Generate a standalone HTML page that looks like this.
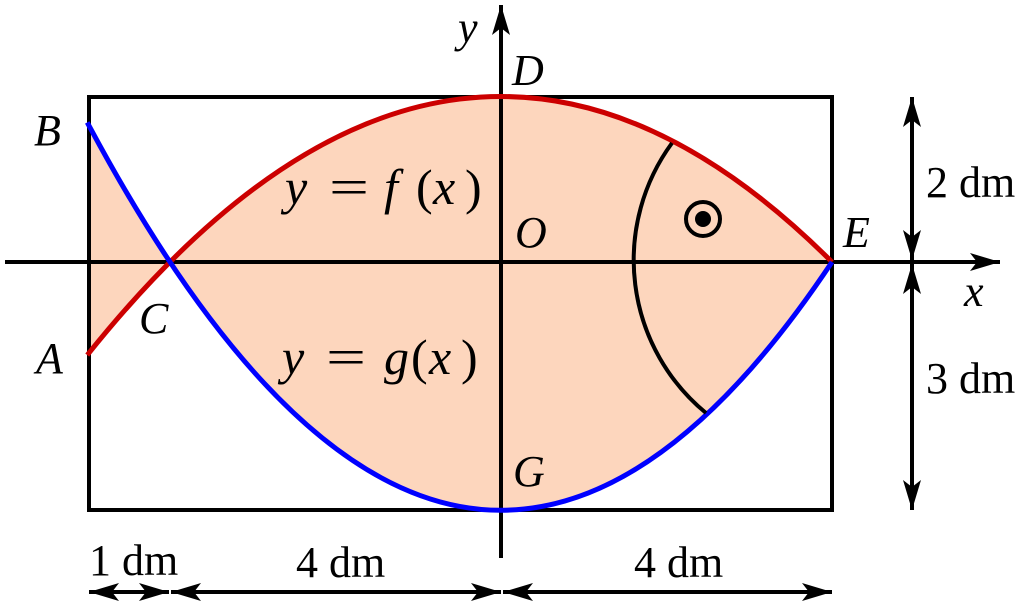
<!DOCTYPE html>
<html><head><style>
html,body{margin:0;padding:0;background:#fff;}
svg{display:block;}
text{font-family:"Liberation Serif",serif;font-size:44px;fill:#000;}
.i{font-style:italic;}
.e{font-size:50px;}
</style></head><body>
<svg width="1024" height="612" viewBox="0 0 1024 612" xmlns="http://www.w3.org/2000/svg">
<defs>
<marker id="ah" markerWidth="30" markerHeight="18" refX="30" refY="9" orient="auto-start-reverse" markerUnits="userSpaceOnUse">
<path d="M0,0 L30,9 L0,18 L7,9 Z" fill="#000"/>
</marker>
</defs>
<path d="M87.25,355.1 Q459.6,-110.4 832,262 Q459.6,820.6 87.25,122.4 Z" fill="#fdd6bd"/>
<rect x="89" y="97" width="743" height="413" fill="none" stroke="#000" stroke-width="4"/>
<line x1="5" y1="262" x2="1000" y2="262" stroke="#000" stroke-width="4" marker-end="url(#ah)"/>
<line x1="501" y1="558" x2="501" y2="5" stroke="#000" stroke-width="4" marker-end="url(#ah)"/>
<path d="M87.25,355.1 Q459.6,-110.4 832,262" fill="none" stroke="#cc0000" stroke-width="5"/>
<path d="M87.25,122.4 Q459.6,820.6 832,262" fill="none" stroke="#0000ff" stroke-width="5"/>
<path d="M672,143 A198,198 0 0 0 706,413" fill="none" stroke="#000" stroke-width="4"/>
<circle cx="703" cy="219" r="17" fill="none" stroke="#000" stroke-width="4"/>
<circle cx="703" cy="219" r="8" fill="#000"/>
<line x1="89" y1="592" x2="169" y2="592" stroke="#000" stroke-width="4" marker-start="url(#ah)" marker-end="url(#ah)"/>
<line x1="171" y1="592" x2="501" y2="592" stroke="#000" stroke-width="4" marker-start="url(#ah)" marker-end="url(#ah)"/>
<line x1="503" y1="592" x2="832" y2="592" stroke="#000" stroke-width="4" marker-start="url(#ah)" marker-end="url(#ah)"/>
<line x1="912" y1="97" x2="912" y2="260" stroke="#000" stroke-width="4" marker-start="url(#ah)" marker-end="url(#ah)"/>
<line x1="912" y1="264" x2="912" y2="510" stroke="#000" stroke-width="4" marker-start="url(#ah)" marker-end="url(#ah)"/>
<text x="89" y="575">1 dm</text>
<text x="296" y="577">4 dm</text>
<text x="634" y="577">4 dm</text>
<text x="926" y="197">2 dm</text>
<text x="926" y="393">3 dm</text>
<text class="i" x="34" y="145">B</text>
<text class="i" x="36" y="373">A</text>
<text class="i" x="139" y="333">C</text>
<text class="i" x="512" y="85">D</text>
<text class="i" x="515" y="247">O</text>
<text class="i" x="843" y="247">E</text>
<text class="i" x="513" y="486">G</text>
<text class="i" x="458" y="42">y</text>
<text class="i" x="964" y="306">x</text>
<text class="i e" x="285" y="204">y</text>
<text class="e" x="329" y="204" textLength="40" lengthAdjust="spacingAndGlyphs">=</text>
<text class="i e" x="384" y="204">f</text>
<text class="e" x="416" y="204">(</text>
<text class="i e" x="433" y="204">x</text>
<text class="e" x="465" y="204">)</text>
<text class="i e" x="282" y="374">y</text>
<text class="e" x="326" y="374" textLength="40" lengthAdjust="spacingAndGlyphs">=</text>
<text class="i e" x="384" y="374">g</text>
<text class="e" x="411" y="374">(</text>
<text class="i e" x="429" y="374">x</text>
<text class="e" x="461" y="374">)</text>
</svg>
</body></html>
